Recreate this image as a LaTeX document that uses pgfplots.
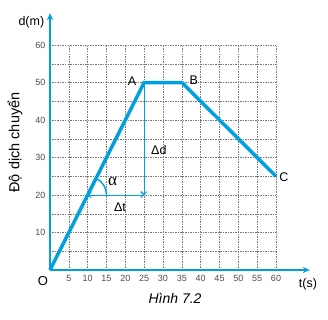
\documentclass[border=0pt]{standalone}
\usepackage{pgfplots}
\pgfplotsset{compat=1.18}
\usepackage{fontspec}
\setmainfont{Liberation Sans}
\newfontfamily\seriffont{Liberation Serif}
\usetikzlibrary{arrows.meta}
\definecolor{cblue}{RGB}{0,160,222}
\definecolor{gridgray}{RGB}{120,120,120}
\begin{document}
\begin{tikzpicture}
\begin{axis}[
  scale only axis,
  width=226pt, height=225pt,
  xmin=0, xmax=60, ymin=0, ymax=60,
  clip=false,
  axis line style={draw=none},
  tick style={draw=none},
  xtick={5,10,...,60},
  ytick={10,20,...,60},
  minor xtick={0},
  minor ytick={5,15,...,55},
  grid=both,
  major grid style={gridgray, line width=0.5pt, dash pattern=on 1.5pt off 1pt},
  minor grid style={gridgray, line width=0.5pt, dash pattern=on 1.5pt off 1pt},
  /pgf/number format/assume math mode=true,
  ticklabel style={font=\fontsize{9}{10}\selectfont, text=black!70},
  xticklabel style={yshift=-2pt},
  yticklabel style={xshift=-1pt},
]
\draw[cblue, line width=1.6pt, -{Stealth[length=7pt,width=6pt]}] (axis cs:0,0) -- (axis cs:69,0);
\draw[cblue, line width=1.6pt, -{Stealth[length=7pt,width=6pt]}] (axis cs:0,0) -- (axis cs:0,68.5);
\addplot[cblue, line width=3.5pt, line join=miter] coordinates {(0,0) (25,50) (35,50) (60,25)};
\draw[cblue, line width=0.8pt, -{Straight Barb[length=3pt]}] (axis cs:25,50) -- (axis cs:25,20);
\draw[cblue, line width=0.8pt, {Straight Barb[length=3pt]}-{Straight Barb[length=3pt]}] (axis cs:10,20) -- (axis cs:25,20);
\draw[cblue, line width=1.4pt] (axis cs:15,20) arc[start angle=0, end angle=63.4, radius=18.8pt];
\coordinate (O) at (axis cs:0,0);
\node[font=\fontsize{12.5}{14}\selectfont, anchor=east] at (axis cs:-0.6,66) {d(m)};
\node[font=\fontsize{12.5}{14}\selectfont] at (axis cs:68.5,-3.7) {t(s)};
\node[font=\fontsize{13}{14}\selectfont] at (axis cs:-1.9,-2.9) {O};
\node[font=\fontsize{12.5}{14}\selectfont] at (axis cs:21.8,50.4) {A};
\node[font=\fontsize{12.5}{14}\selectfont] at (axis cs:38.2,50.7) {B};
\node[font=\fontsize{12.5}{14}\selectfont] at (axis cs:62.1,24.8) {C};
\node[font=\fontsize{12.5}{14}\selectfont] at (axis cs:28.9,32) {Δd};
\node[font=\fontsize{12.5}{14}\selectfont] at (axis cs:18.6,16.8) {Δt};
\node[font=\fontsize{17}{18}\selectfont\seriffont] at (axis cs:16.6,23.6) {α};
\node[font=\fontsize{14}{16}\selectfont\itshape] at (axis cs:33.2,-7.6) {Hình 7.2};
\node[font=\fontsize{14.5}{16}\selectfont, rotate=90] at (axis cs:-9.3,34) {Độ dịch chuyển};
\end{axis}
\useasboundingbox ([shift={(-50pt,-49pt)}]O) rectangle ([shift={(278pt,270pt)}]O);
\end{tikzpicture}
\end{document}
